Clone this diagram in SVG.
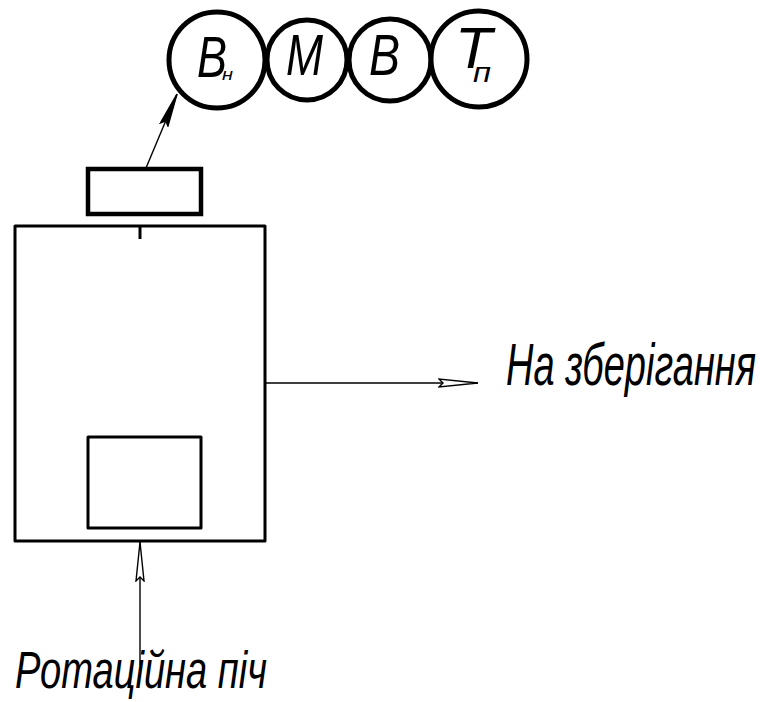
<svg xmlns="http://www.w3.org/2000/svg" width="765" height="702" viewBox="0 0 765 702">
<style>
.box{fill:none;stroke:#000;stroke-width:3;stroke-linejoin:round}
.thick{fill:none;stroke:#000;stroke-width:4.5}
.circ{fill:#fff;stroke:#000;stroke-width:5}
.line{fill:none;stroke:#000;stroke-width:1.4}
.t{font-family:"Liberation Sans",Arial,sans-serif;font-style:italic;fill:#000}
</style>
<defs>
<marker id="open" viewBox="0 0 40 10" refX="40" refY="5" markerWidth="40" markerHeight="10" markerUnits="userSpaceOnUse" orient="auto">
<path d="M40,5 L1,1 L5,5 L1,9 Z" fill="#fff" stroke="#000" stroke-width="1.4" stroke-linejoin="miter"/>
</marker>
<marker id="filled" viewBox="0 0 34 10" refX="34" refY="5" markerWidth="34" markerHeight="10" markerUnits="userSpaceOnUse" orient="auto">
<path d="M34,5 L1,1 L5,5 L1,9 Z" fill="#000" stroke="#000" stroke-width="1.5"/>
</marker>
</defs>
<g id="connectors">
<line class="line" x1="146" y1="168" x2="177" y2="94" marker-end="url(#filled)"/>
<line class="line" x1="266" y1="383" x2="478" y2="383" marker-end="url(#open)"/>
<line class="line" x1="140" y1="665" x2="140" y2="542" marker-end="url(#open)"/>
</g>
<g id="main-unit">
<rect class="box" x="15" y="226" width="250" height="315"/>
<line x1="140" y1="226" x2="140" y2="239" stroke="#000" stroke-width="3"/>
</g>
<g id="inner-box">
<rect class="box" x="88" y="437" width="113" height="91"/>
</g>
<g id="top-box">
<rect class="thick" x="88" y="169" width="113" height="45"/>
</g>
<g id="circle-Bn">
<circle class="circ" cx="217" cy="60" r="48"/>
<text class="t" x="197" y="77" font-size="57" textLength="30" lengthAdjust="spacingAndGlyphs">B</text>
<text class="t" x="222" y="80" font-size="17" textLength="11" lengthAdjust="spacingAndGlyphs">н</text>
</g>
<g id="circle-M">
<circle class="circ" cx="307" cy="60" r="40"/>
<text class="t" x="286" y="75" font-size="57" textLength="37" lengthAdjust="spacingAndGlyphs">M</text>
</g>
<g id="circle-B">
<circle class="circ" cx="390" cy="60" r="41"/>
<text class="t" x="369" y="75" font-size="57" textLength="31" lengthAdjust="spacingAndGlyphs">B</text>
</g>
<g id="circle-Tp">
<circle class="circ" cx="479" cy="59" r="48"/>
<text class="t" x="455" y="68" font-size="58" textLength="37" lengthAdjust="spacingAndGlyphs">T</text>
<text class="t" x="473" y="82" font-size="27" textLength="18" lengthAdjust="spacingAndGlyphs">п</text>
</g>
<g id="label-storage">
<text class="t" x="506" y="385" font-size="60" textLength="250" lengthAdjust="spacingAndGlyphs">На зберігання</text>
</g>
<g id="label-oven">
<text class="t" x="15" y="688" font-size="51" textLength="252" lengthAdjust="spacingAndGlyphs">Ротаційна піч</text>
</g>
</svg>
